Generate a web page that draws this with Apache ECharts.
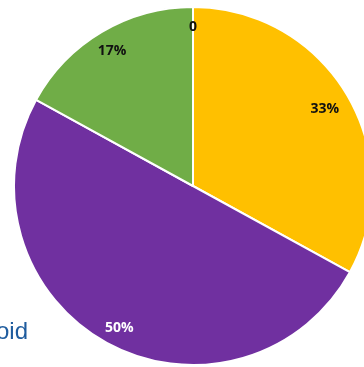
<!DOCTYPE html>
<html><head><meta charset="utf-8">
<script src="https://cdn.jsdelivr.net/npm/echarts@6/dist/echarts.min.js"></script>
<style>html,body{margin:0;padding:0;background:#fff}#c{width:364px;height:367px}</style>
</head><body><div id="c"></div>
<script>
var categories = ['Zero', 'A', 'B', 'C'];
var values = [0, 33, 50, 17];
var colors = ['#A5A5A5', '#FFC000', '#7030A0', '#70AD47'];
var labelColors = ['#111', '#111', '#fff', '#111'];
var legendText = 'oid';

var chart = echarts.init(document.getElementById('c'));
var labelOffsets = [[0, 0], [-5, 4], [3, 3], [0, 2]];
var data = categories.map(function (c, i) {
  return { name: c, value: values[i], itemStyle: { color: colors[i] } };
});
function fmt(p) { return p.value === 0 ? '0' : Math.round(p.percent) + '%'; }
chart.setOption({
  animation: false,
  graphic: [{ type: 'text', right: 336, top: 320, style: { text: legendText, fill: '#1F5C9E', font: '24px "Liberation Sans", "Open Sans", sans-serif' } }],
  series: [
    {
      type: 'pie', center: [193, 186], radius: [0, 179], startAngle: 90, clockwise: true,
      avoidLabelOverlap: false, silent: true,
      itemStyle: { borderColor: '#fff', borderWidth: 2 },
      label: { show: false }, labelLine: { show: false },
      data: data
    },
    {
      type: 'pie', center: [193, 186], radius: [133, 179], startAngle: 90, clockwise: true,
      avoidLabelOverlap: false, silent: true,
      itemStyle: { color: 'rgba(0,0,0,0)', borderWidth: 0 },
      label: { show: true, position: 'inside', formatter: fmt, fontWeight: 'bold', fontSize: 14, fontFamily: '"Open Sans", "DejaVu Sans", sans-serif' },
      labelLine: { show: false },
      data: categories.map(function (c, i) {
        return { name: c, value: values[i], itemStyle: { color: 'rgba(0,0,0,0)' }, label: { color: labelColors[i], offset: labelOffsets[i] } };
      })
    }
  ]
});
</script></body></html>
